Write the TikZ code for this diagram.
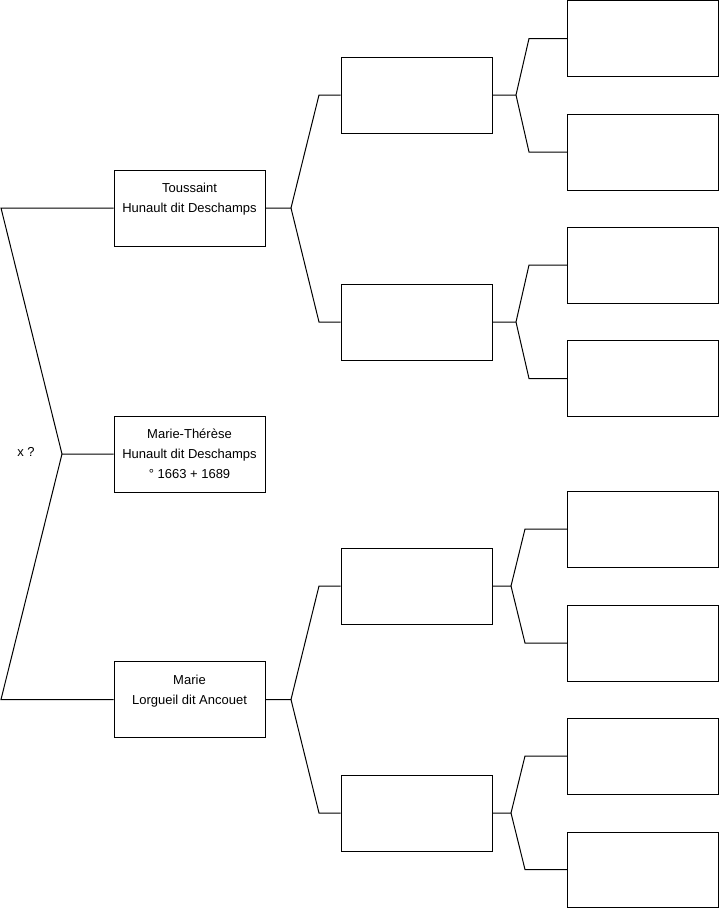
\documentclass[tikz,border=0pt]{standalone}
\usepackage{fontspec}
\setmainfont{Liberation Sans}
\begin{document}
\begin{tikzpicture}[x=1pt,y=-1pt,
  box/.style={draw=black,line width=1pt,minimum width=151pt,minimum height=76pt,inner sep=0pt,align=center,font=\fontsize{13}{20}\selectfont},
  conn/.style={draw=black,line width=1pt},
  lbl/.style={font=\fontsize{13}{14}\selectfont,inner sep=0pt}]
\useasboundingbox (0,0) rectangle (719,908);
% generation 1
\node[box] (t) at (189.5,208) {Toussaint\\Hunault dit Deschamps\\~};
\node[box] (mt) at (189.5,454) {Marie-Thérèse\\Hunault dit Deschamps\\° 1663 + 1689};
\node[box] (m) at (189.5,699.5) {Marie\\Lorgueil dit Ancouet\\~};
% generation 2
\node[box] (a) at (416.5,95) {};
\node[box] (b) at (416.5,322) {};
\node[box] (c) at (416.5,586) {};
\node[box] (d) at (416.5,813) {};
% generation 3
\node[box] (a1) at (643,38.5) {};
\node[box] (a2) at (643,152) {};
\node[box] (b1) at (643,265) {};
\node[box] (b2) at (643,378.5) {};
\node[box] (c1) at (643,529) {};
\node[box] (c2) at (643,643) {};
\node[box] (d1) at (643,756) {};
\node[box,minimum height=75pt] (d2) at (643,869.5) {};
\node[lbl] (x) at (26,452) {x ?};
% coordinates
\coordinate (fmt) at (62,454);
\coordinate (bt) at (1,208);
\coordinate (bm) at (1,699.5);
\coordinate (ft) at (291,208);
\coordinate (fm) at (291,699.5);
\coordinate (ba) at (319,95);
\coordinate (bb) at (319,322);
\coordinate (bc) at (319,586);
\coordinate (bd) at (319,813);
\coordinate (fa) at (516,95);
\coordinate (fb) at (516,322);
\coordinate (fc) at (511,586);
\coordinate (fd) at (511,813);
\coordinate (ba1) at (529,38.5);
\coordinate (ba2) at (529,152);
\coordinate (bb1) at (529,265);
\coordinate (bb2) at (529,378.5);
\coordinate (bc1) at (525,529);
\coordinate (bc2) at (525,643);
\coordinate (bd1) at (525,756);
\coordinate (bd2) at (525,869.5);
% connectors
\draw[conn] (mt.west) -- (fmt) -- (bt) -- (t.west);
\draw[conn] (fmt) -- (bm) -- (m.west);
\draw[conn] (t.east) -- (ft) -- (ba) -- (a.west);
\draw[conn] (ft) -- (bb) -- (b.west);
\draw[conn] (m.east) -- (fm) -- (bc) -- (c.west);
\draw[conn] (fm) -- (bd) -- (d.west);
\draw[conn] (a.east) -- (fa) -- (ba1) -- (a1.west);
\draw[conn] (fa) -- (ba2) -- (a2.west);
\draw[conn] (b.east) -- (fb) -- (bb1) -- (b1.west);
\draw[conn] (fb) -- (bb2) -- (b2.west);
\draw[conn] (c.east) -- (fc) -- (bc1) -- (c1.west);
\draw[conn] (fc) -- (bc2) -- (c2.west);
\draw[conn] (d.east) -- (fd) -- (bd1) -- (d1.west);
\draw[conn] (fd) -- (bd2) -- (d2.west);
\end{tikzpicture}
\end{document}
